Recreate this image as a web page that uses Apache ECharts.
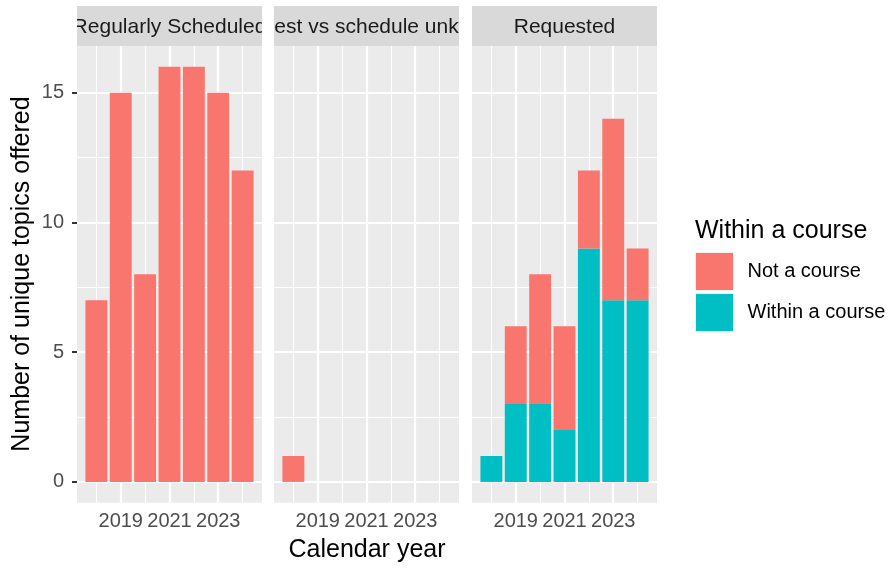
<!DOCTYPE html>
<html>
<head>
<meta charset="utf-8">
<script src="https://cdn.jsdelivr.net/npm/echarts@6/dist/echarts.min.js"></script>
<style>html,body{margin:0;padding:0;background:#fff}#c{width:896px;height:568px}</style>
</head>
<body>
<div id="c"></div>
<script>
// ---- data ----
const years = [2018, 2019, 2020, 2021, 2022, 2023, 2024];
const panels = ['Regularly Scheduled', 'Request vs schedule unknown', 'Requested'];
const regularNot = [7, 15, 8, 16, 16, 15, 12];
const unknownYears = [2018];
const unknownNot = [1];
const requestedWithin = [1, 3, 3, 2, 9, 7, 7];
const requestedNot = [null, 3, 5, 4, 3, 7, 2];
const xTickYears = [2019, 2021, 2023];
const xMinorYears = [2018, 2020, 2022, 2024];
const yTicks = [0, 5, 10, 15];
const yMinor = [2.5, 7.5, 12.5];
const legendNames = ['Not a course', 'Within a course'];

// ---- layout ----
const FONT = 'Liberation Sans, Arial, Helvetica, sans-serif';
const RED = '#F8766D', CYAN = '#00BFC4';
const lefts = [77, 274, 472];
const PW = 185, TOP = 46, BOTTOM_PX = 502.7;
const XMIN = 2017.205, XMAX = 2024.795, YMIN = -0.8, YMAX = 16.8;
const BARW = 21.9;

const pairs = (xs, ys) => xs.map((x, i) => [x, ys[i]]);
// value first, year second (so the value column is the one that gets stacked)
const vpairs = (xs, ys) => xs.map((x, i) => [ys[i], x]);

const grids = lefts.map(l => ({
  left: l, width: PW, top: TOP, height: BOTTOM_PX - TOP,
  show: true, backgroundColor: '#EBEBEB', borderWidth: 0,
  containLabel: false, outerBoundsMode: 'none'
}));

const xAxes = lefts.map((l, i) => ({
  type: 'value', gridIndex: i, min: XMIN, max: XMAX,
  axisLine: { show: false },
  axisTick: { show: true, length: 5, customValues: xTickYears, lineStyle: { color: '#333333', width: 2 } },
  axisLabel: { show: true, customValues: xTickYears, margin: 9, color: '#4D4D4D', fontSize: 20, fontFamily: FONT, formatter: v => String(v) },
  splitLine: { show: false }, minorSplitLine: { show: false }
}));

const yAxes = lefts.map((l, i) => ({
  type: 'value', gridIndex: i, min: YMIN, max: YMAX,
  axisLine: { show: false },
  axisTick: { show: i === 0, length: 5, customValues: yTicks, lineStyle: { color: '#333333', width: 2 } },
  axisLabel: { show: i === 0, customValues: yTicks, margin: 13, color: '#4D4D4D', fontSize: 20, fontFamily: FONT, formatter: v => String(v) },
  splitLine: { show: false }
}));

function gridSeries(i) {
  const data = [];
  xTickYears.forEach(v => data.push({ xAxis: v, lineStyle: { width: 2.2 } }));
  xMinorYears.forEach(v => data.push({ xAxis: v, lineStyle: { width: 1.1 } }));
  yTicks.forEach(v => data.push({ yAxis: v, lineStyle: { width: 2.2 } }));
  yMinor.forEach(v => data.push({ yAxis: v, lineStyle: { width: 1.1 } }));
  return {
    type: 'line', name: 'grid' + i, xAxisIndex: i, yAxisIndex: i, data: [],
    silent: true,
    markLine: {
      silent: true, z: 1, symbol: ['none', 'none'], animation: false,
      label: { show: false },
      lineStyle: { color: '#FFFFFF', type: 'solid', width: 1.1 },
      emphasis: { disabled: true },
      data: data
    }
  };
}

const series = [
  gridSeries(0), gridSeries(1), gridSeries(2),
  { type: 'bar', name: 'Not a course', xAxisIndex: 0, yAxisIndex: 0, barWidth: BARW, z: 2,
    itemStyle: { color: RED }, data: pairs(years, regularNot) },
  { type: 'bar', name: 'Not a course', xAxisIndex: 1, yAxisIndex: 1, barWidth: BARW, z: 2,
    itemStyle: { color: RED }, data: pairs(unknownYears, unknownNot) },
  { type: 'bar', name: 'Within a course', xAxisIndex: 2, yAxisIndex: 2, barWidth: BARW, stack: 'req', z: 2,
    encode: { x: 1, y: 0 },
    itemStyle: { color: CYAN }, data: vpairs(years, requestedWithin) },
  { type: 'bar', name: 'Not a course', xAxisIndex: 2, yAxisIndex: 2, barWidth: BARW, stack: 'req', z: 2,
    encode: { x: 1, y: 0 },
    itemStyle: { color: RED }, data: vpairs(years, requestedNot) }
];

// strips
const graphic = [];
const stripY = 6, stripH = 40;
const stripOrder = [1, 0, 2];
stripOrder.forEach((i, k) => {
  const zb = k === 0 ? 100 : 102;
  graphic.push({ type: 'rect', z: zb, shape: { x: lefts[i], y: stripY, width: PW, height: stripH }, style: { fill: '#D9D9D9' } });
  graphic.push({ type: 'text', z: zb + 1, x: lefts[i] + PW / 2, y: stripY + stripH / 2 + 1,
    style: { text: panels[i], fill: '#1A1A1A', fontSize: 21, fontFamily: FONT, align: 'center', verticalAlign: 'middle' } });
});
[[0, 77], [262, 12], [459, 13], [657, 40]].forEach(([x, w]) => {
  graphic.push({ type: 'rect', z: 110, shape: { x: x, y: 0, width: w, height: stripH + stripY }, style: { fill: '#FFFFFF' } });
});
graphic.push({ type: 'text', z: 120, x: 367, y: 550,
  style: { text: 'Calendar year', fill: '#000000', fontSize: 25, fontFamily: FONT, align: 'center', verticalAlign: 'middle' } });
graphic.push({ type: 'text', z: 120, x: 22, y: 274, rotation: Math.PI / 2,
  style: { text: 'Number of unique topics offered', fill: '#000000', fontSize: 25, fontFamily: FONT, align: 'center', verticalAlign: 'middle' } });
graphic.push({ type: 'text', z: 120, x: 695, y: 231,
  style: { text: 'Within a course', fill: '#000000', fontSize: 25, fontFamily: FONT, align: 'left', verticalAlign: 'middle' } });

const chart = echarts.init(document.getElementById('c'), null, { renderer: 'canvas' });
chart.setOption({
  animation: false,
  backgroundColor: '#FFFFFF',
  grid: grids,
  xAxis: xAxes,
  yAxis: yAxes,
  legend: {
    data: legendNames, orient: 'vertical', left: 695, top: 252,
    itemWidth: 38, itemHeight: 38, itemGap: 2, padding: 0,
    icon: 'rect', selectedMode: false,
    itemStyle: { borderColor: '#F2F2F2', borderWidth: 1 },
    textStyle: { fontSize: 20, color: '#000000', fontFamily: FONT, padding: [4, 0, 0, 9] }
  },
  graphic: graphic,
  series: series
});
</script>
</body>
</html>
